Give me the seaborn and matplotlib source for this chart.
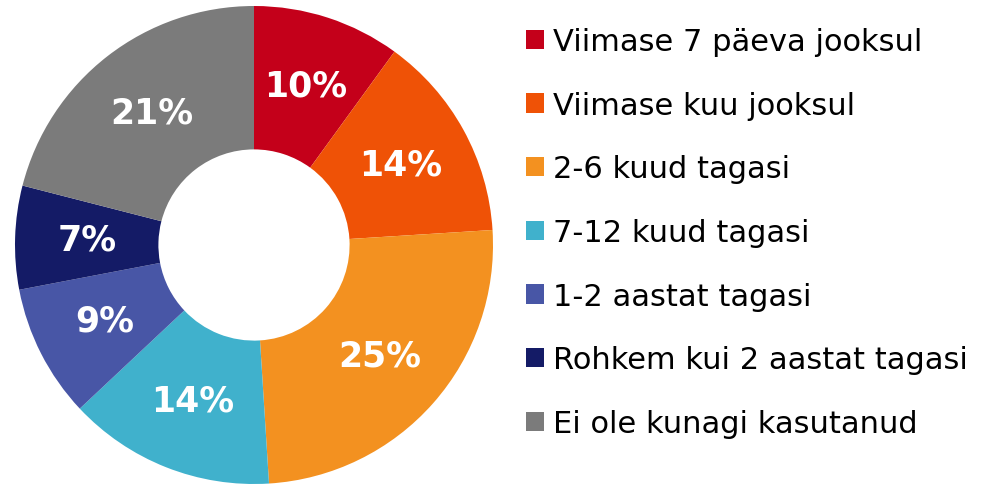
import matplotlib
matplotlib.use("Agg")
import matplotlib.pyplot as plt
import seaborn as sns

categories = [
    "Viimase 7 päeva jooksul",
    "Viimase kuu jooksul",
    "2-6 kuud tagasi",
    "7-12 kuud tagasi",
    "1-2 aastat tagasi",
    "Rohkem kui 2 aastat tagasi",
    "Ei ole kunagi kasutanud",
]
shares = [10, 14, 25, 14, 9, 7, 21]
colors = ["#C4001A", "#EF5206", "#F39120", "#40B1CC", "#4856A6", "#141B66", "#7B7B7B"]

sns.set_theme(style="white")
plt.rcParams["font.family"] = ["DejaVu Sans"]
plt.rcParams["text.color"] = "black"
palette = sns.color_palette(colors)

fig = plt.figure(figsize=(10.07, 4.85), dpi=100)
ax = fig.add_axes([15 / 1007, 0.0, 478 / 1007, 478 / 485])

wedges, texts, autotexts = ax.pie(
    shares, colors=palette, startangle=90, counterclock=False,
    autopct=lambda p: f"{p:.0f}%", pctdistance=0.7,
    wedgeprops=dict(width=0.6, linewidth=0),
    textprops=dict(color="white", fontsize=25, fontweight="bold"),
)
ax.set_xlim(-1, 1); ax.set_ylim(-1, 1)
ax.set_aspect("equal")
ax.axis("off")

leg = fig.legend(
    wedges, categories, loc="upper left", bbox_to_anchor=(526 / 1007, 1 - 28 / 485),
    frameon=False, fontsize=22, handlelength=0.59, handleheight=0.59,
    handletextpad=0.28, labelspacing=1.135, borderpad=0, borderaxespad=0,
)
for t in leg.get_texts():
    t.set_color("black")

fig.savefig("out.png", dpi=100)
